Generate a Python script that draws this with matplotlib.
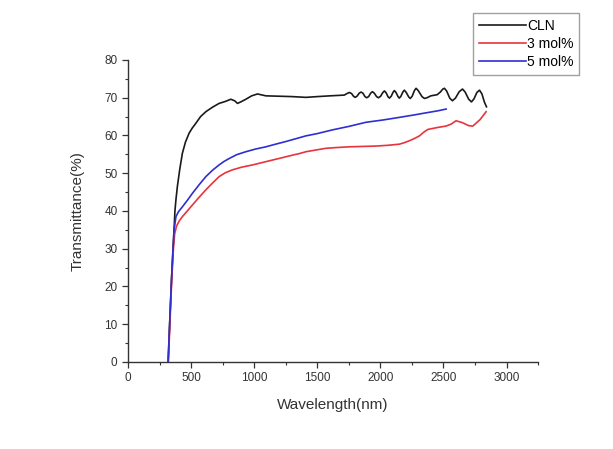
import matplotlib
matplotlib.use("Agg")
import matplotlib.pyplot as plt
from matplotlib.ticker import MultipleLocator

plt.rcParams["font.family"] = ["Liberation Sans", "DejaVu Sans"]

# CLN (black)
cln_wl = [318, 330, 345, 357, 365, 372, 380, 391, 410, 431, 455, 484, 510, 537, 575,
          617, 670, 722, 770, 815, 845, 868, 900, 934, 980, 1026, 1093, 1200, 1300,
          1410, 1500, 1600, 1714, 1735, 1754, 1772, 1787, 1800, 1815, 1832, 1847,
          1862, 1878, 1892, 1907, 1923, 1937, 1952, 1970, 1985, 2002, 2018, 2032,
          2046, 2060, 2072, 2086, 2100, 2111, 2124, 2140, 2150, 2163, 2178, 2190,
          2205, 2225, 2237, 2252, 2270, 2283, 2300, 2330, 2349, 2370, 2400, 2450,
          2475, 2495, 2508, 2525, 2550, 2571, 2595, 2625, 2651, 2672, 2700, 2722,
          2742, 2765, 2786, 2805, 2825, 2841]
cln_t = [0, 10, 22, 30, 35, 40, 43, 46.4, 51, 55.3, 58.2, 60.6, 62, 63.2, 65,
         66.3, 67.5, 68.5, 69, 69.6, 69.2, 68.5, 69, 69.6, 70.5, 71.0, 70.5, 70.4, 70.3,
         70.1, 70.3, 70.5, 70.7, 71.1, 71.4, 71.1, 70.4, 70.1, 70.4, 71.2, 71.5,
         71.2, 70.3, 70.0, 70.3, 71.2, 71.6, 71.2, 70.3, 70.0, 70.4, 71.3, 71.8,
         71.3, 70.3, 69.9, 70.4, 71.4, 71.9, 71.4, 70.3, 69.9, 70.4, 71.5, 72.0,
         71.4, 70.2, 69.8, 70.4, 71.9, 72.5, 71.9, 70.3, 69.8, 70.0, 70.5, 70.8,
         71.5, 72.3, 72.5, 71.8, 69.9, 69.2, 69.9, 71.6, 72.3, 71.5, 69.6, 68.9,
         69.7, 71.4, 72.0, 71.0, 68.8, 67.6]

# 3 mol% (red)
m3_wl = [320, 332, 347, 360, 370, 385, 405, 431, 470, 511, 560, 617, 670, 722, 770,
         828, 900, 987, 1060, 1146, 1220, 1305, 1357, 1410, 1480, 1568, 1650, 1754,
         1860, 1966, 2060, 2151, 2190, 2230, 2270, 2310, 2345, 2376, 2450, 2521,
         2560, 2600, 2650, 2700, 2733, 2790, 2838]
m3_t = [0, 10, 22, 30, 34, 36, 37.3, 38.5, 40, 41.6, 43.5, 45.6, 47.4, 49.1, 50.1,
        50.9, 51.6, 52.2, 52.8, 53.5, 54.1, 54.8, 55.2, 55.7, 56.1, 56.6, 56.8, 57.0,
        57.1, 57.2, 57.4, 57.7, 58.1, 58.6, 59.2, 59.9, 60.9, 61.6, 62.1, 62.5,
        63.0, 63.9, 63.4, 62.6, 62.5, 64.2, 66.3]

# 5 mol% (blue)
m5_wl = [318, 330, 345, 357, 365, 380, 400, 431, 470, 511, 560, 617, 670, 722, 760,
         802, 860, 934, 1010, 1093, 1170, 1251, 1357, 1410, 1500, 1622, 1750, 1886,
         2020, 2151, 2260, 2362, 2450, 2521]
m5_t = [0, 10, 22, 30, 35, 38.5, 39.8, 41.1, 42.8, 44.7, 46.8, 49.1, 50.8, 52.2, 53.1,
        53.9, 54.9, 55.7, 56.4, 57.0, 57.7, 58.4, 59.4, 59.9, 60.5, 61.5, 62.4, 63.5,
        64.1, 64.8, 65.4, 66.0, 66.5, 67.0]

fig = plt.figure(figsize=(6.13, 4.49), dpi=100)
ax = fig.add_axes([0.2088, 0.1938, 0.669, 0.6726])

ax.plot(cln_wl, cln_t, color="#1a1a1a", lw=1.2, label="CLN")
ax.plot(m3_wl, m3_t, color="#e8343c", lw=1.2, label="3 mol%")
ax.plot(m5_wl, m5_t, color="#2f2fd0", lw=1.2, label="5 mol%")

ax.set_xlim(0, 3250)
ax.set_ylim(0, 80)
ax.xaxis.set_major_locator(MultipleLocator(500))
ax.xaxis.set_minor_locator(MultipleLocator(250))
ax.yaxis.set_major_locator(MultipleLocator(10))
ax.yaxis.set_minor_locator(MultipleLocator(5))
ax.spines["top"].set_visible(False)
ax.spines["right"].set_visible(False)
for s in ("left", "bottom"):
    ax.spines[s].set_color("#333333")
    ax.spines[s].set_linewidth(1.0)
ax.tick_params(which="major", direction="out", length=4, width=0.9,
               colors="#333333", labelsize=8.5, labelcolor="#333333")
ax.tick_params(which="minor", direction="out", length=2.5, width=0.8, colors="#333333")

ax.set_xlabel("Wavelength(nm)", fontsize=11, color="#333333", labelpad=10)
ax.set_ylabel("Transmittance(%)", fontsize=11, color="#333333", labelpad=14)

leg = fig.legend(loc="upper right", bbox_to_anchor=(0.945, 0.97), fontsize=10,
                 frameon=True, fancybox=False, handlelength=3.4, handletextpad=0.1,
                 borderpad=0.4, labelspacing=0.3, borderaxespad=0)
leg.get_frame().set_edgecolor("#888888")
leg.get_frame().set_linewidth(1.0)

fig.savefig("out.png", dpi=100)
